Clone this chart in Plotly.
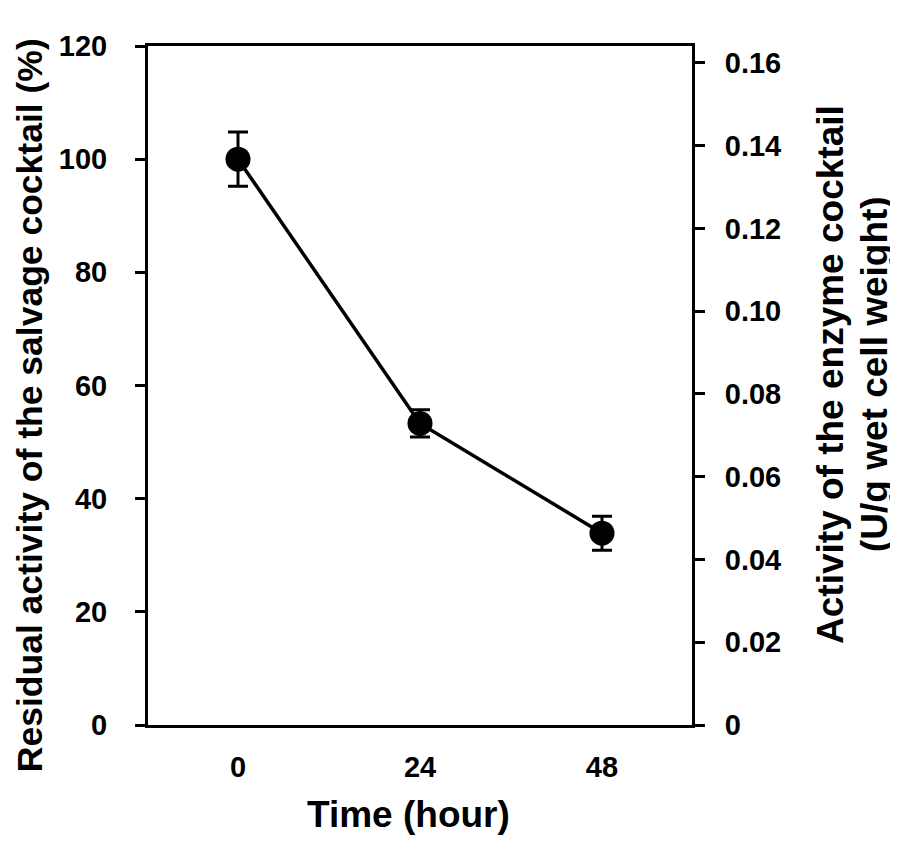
import plotly.graph_objects as go

time_h = [0, 24, 48]
time_labels = ["0", "24", "48"]
residual_activity = [100.0, 53.3, 33.9]
error_pct = [4.8, 2.4, 3.0]

left_ticks = [0, 20, 40, 60, 80, 100, 120]
right_ticks = [0, 0.02, 0.04, 0.06, 0.08, 0.10, 0.12, 0.14, 0.16]
right_tick_labels = ["0", "0.02", "0.04", "0.06", "0.08", "0.10", "0.12", "0.14", "0.16"]

x_title = "Time (hour)"
left_title = "Residual activity of the salvage cocktail (%)"
right_title_lines = ["Activity of the enzyme cocktail", "(U/g wet cell weight)"]

FONT = "Liberation Sans"
TICK_SIZE = 29
TITLE_SIZE = 37

fig = go.Figure()
fig.add_trace(go.Scatter(
    x=time_h, y=residual_activity,
    mode="lines+markers",
    line=dict(color="black", width=3.5),
    marker=dict(color="black", size=25),
    error_y=dict(type="data", array=error_pct, visible=True,
                 color="black", thickness=3, width=10),
    showlegend=False,
))
# invisible trace to activate secondary axis
fig.add_trace(go.Scatter(x=[time_h[0]], y=[0], yaxis="y2",
                         mode="markers", marker=dict(opacity=0),
                         showlegend=False, hoverinfo="skip"))

tfont = dict(size=TITLE_SIZE, family=FONT, weight="bold", color="black")

fig.update_layout(
    width=890, height=833,
    margin=dict(l=140, r=206, t=38, b=116),
    paper_bgcolor="white", plot_bgcolor="white",
    font=dict(family=FONT, color="black", weight="bold"),
    xaxis=dict(
        range=[-11.87, 59.87],
        tickvals=time_h, ticktext=time_labels,
        showline=True, linecolor="black", linewidth=3, mirror=True,
        ticks="", showgrid=False, zeroline=False,
        tickfont=dict(size=TICK_SIZE, family=FONT, weight="bold"),
        ticklabelstandoff=14,
    ),
    yaxis=dict(
        range=[0, 120], tickvals=left_ticks,
        showline=True, linecolor="black", linewidth=3,
        ticks="outside", ticklen=10, tickwidth=3, tickcolor="black",
        showgrid=False, zeroline=False,
        tickfont=dict(size=TICK_SIZE, family=FONT, weight="bold"),
        ticklabelstandoff=22,
    ),
    yaxis2=dict(
        range=[0, 0.1641], tickvals=right_ticks, ticktext=right_tick_labels,
        overlaying="y", side="right",
        showline=True, linecolor="black", linewidth=3,
        ticks="outside", ticklen=10, tickwidth=3, tickcolor="black",
        showgrid=False, zeroline=False,
        tickfont=dict(size=TICK_SIZE, family=FONT, weight="bold"),
        ticklabelstandoff=14,
    ),
    annotations=[
        dict(text=x_title, xref="paper", yref="paper", x=0.479, y=-0.1325,
             xanchor="center", yanchor="middle", showarrow=False, font=tfont),
        dict(text=left_title, xref="paper", yref="paper", x=-0.2165, y=0.4713,
             xanchor="center", yanchor="middle", showarrow=False, textangle=-90,
             borderpad=0,
             font=dict(size=35.5, family=FONT, weight="bold", color="black")),
        dict(text=right_title_lines[0], xref="paper", yref="paper", x=1.2555, y=0.517,
             xanchor="center", yanchor="middle", showarrow=False, textangle=-90, font=tfont),
        dict(text=right_title_lines[1], xref="paper", yref="paper", x=1.3364, y=0.517,
             xanchor="center", yanchor="middle", showarrow=False, textangle=-90, font=tfont),
    ],
)

fig.write_html("out.html")
